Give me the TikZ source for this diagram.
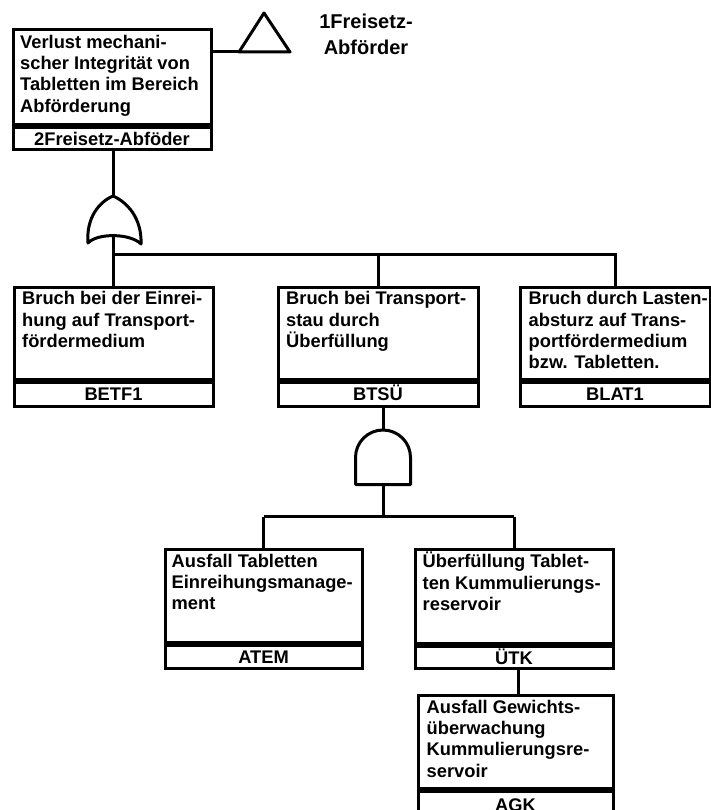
\documentclass[tikz,border=0pt]{standalone}
\usepackage{fontspec}
\setmainfont{Liberation Sans}
\newcommand\evfont{\fontsize{18.3}{21.3}\selectfont\bfseries}
\newcommand\evstrut{\rule{0pt}{17pt}}
\begin{document}
\begin{tikzpicture}[x=1pt,y=-1pt,
  evbody/.style={draw, rectangle, inner sep=0pt, anchor=north west, line width=3pt},
  evid/.style={draw, rectangle, inner sep=0pt, anchor=north, line width=3pt,
    text height=13pt, text depth=0pt, font=\evfont},
  evtext/.style={anchor=north west, inner sep=0pt, align=left, font=\evfont},
  conn/.style={line width=3pt},
  gate/.style={line width=3pt, line join=round}
]
\useasboundingbox (0,0) rectangle (711,810);

% ---- top event ----
\node[evbody, minimum width=198pt, minimum height=94.5pt] (top) at (11.5,28.5) {};
\node[evid, minimum width=198pt, minimum height=22.5pt] (topid) at (top.south) {2Freisetz-Abföder};
\node[evtext] (toptxt) at ([xshift=8.5pt,yshift=-2.5pt]top.north west)
  {\evstrut Verlust mechani-\\scher Integrität von\\Tabletten im Bereich\\Abförderung};

% transfer triangle
\coordinate (trileft) at (239,52);
\coordinate (triright) at (290,52);
\coordinate (triapex) at (264,13);
\draw[gate] (trileft) -- (triapex) -- (triright) -- cycle;
\draw[conn] (trileft -| top.east) -- (trileft);
\node[align=center, inner sep=0pt, anchor=north, font=\fontsize{20}{25.7}\selectfont\bfseries]
  (xferlbl) at (366,11.3) {\evstrut 1Freisetz-\\Abförder};

% ---- OR gate ----
\coordinate (ortop) at (113,196);
\coordinate (orbot) at (113,237);
\draw[gate] (88,243) .. controls (86,218) and (99,202) .. (ortop)
  .. controls (127,202) and (142,218) .. (141,244)
  .. controls (130,233) and (97,233) .. (88,243) -- cycle;
\draw[conn] (topid.south -| ortop) -- (ortop);

% ---- first level events ----
\node[evbody, minimum width=199pt, minimum height=92.5pt] (b1) at (12.5,285.5) {};
\node[evid, minimum width=199pt, minimum height=23.5pt] (b1id) at (b1.south) {BETF1};
\node[evtext] (b1txt) at ([xshift=9.5pt,yshift=-2pt]b1.north west)
  {\evstrut Bruch bei der Einrei-\\hung auf Transport-\\fördermedium};

\node[evbody, minimum width=200pt, minimum height=92.5pt] (b2) at (276.5,285.5) {};
\node[evid, minimum width=200pt, minimum height=23.5pt] (b2id) at (b2.south) {BTSÜ};
\node[evtext] (b2txt) at ([xshift=9.5pt,yshift=-2pt]b2.north west)
  {\evstrut Bruch bei Transport-\\stau durch\\Überfüllung};

\node[evbody, minimum width=190pt, minimum height=92.5pt] (b3) at (518.5,285.5) {};
\node[evid, minimum width=190pt, minimum height=23.5pt] (b3id) at (b3.south) {BLAT1};
\node[evtext] (b3txt) at ([xshift=10pt,yshift=-2pt]b3.north west)
  {\evstrut Bruch durch Lasten-\\absturz auf Trans-\\portfördermedium\\bzw. Tabletten.};

% OR gate inputs
\coordinate (orbus) at (113,254.5);
\draw[conn] (orbot) -- (orbot |- b1.north);
\draw[conn] (orbus) -- (b3.north |- orbus) -- (b3.north);
\draw[conn] (b2.north |- orbus) -- (b2.north);

% ---- AND gate ----
\coordinate (andtop) at (383,430);
\coordinate (andbot) at (383,484.5);
\draw[gate] (355.5,484.5) -- (355.5,457.5)
  .. controls (355.5,442.3) and (367.8,430) .. (andtop)
  .. controls (398.2,430) and (410.5,442.3) .. (410.5,457.5)
  -- (410.5,484.5) -- cycle;
\draw[conn] (b2id.south -| andtop) -- (andtop);

% ---- second level events ----
\node[evbody, minimum width=197pt, minimum height=93.5pt] (atem) at (163.5,547.5) {};
\node[evid, minimum width=197pt, minimum height=22.5pt] (atemid) at (atem.south) {ATEM};
\node[evtext] (atemtxt) at ([xshift=8pt,yshift=-2.5pt]atem.north west)
  {\evstrut Ausfall Tabletten\\Einreihungsmanage-\\ment};

\node[evbody, minimum width=198pt, minimum height=94pt] (utk) at (413.5,548) {};
\node[evid, minimum width=198pt, minimum height=22pt] (utkid) at (utk.south) {ÜTK};
\node[evtext] (utktxt) at ([xshift=9pt,yshift=-2.5pt]utk.north west)
  {\evstrut Überfüllung Tablet-\\ten Kummulierungs-\\reservoir};

% AND gate inputs
\coordinate (andbus) at (383,516.5);
\draw[conn] (andbot) -- (andbus);
\draw[conn] (atem.north |- andbus) -- (utk.north |- andbus);
\draw[conn] (atem.north |- andbus) -- (atem.north);
\draw[conn] (utk.north |- andbus) -- (utk.north);

% ---- third level event (runs past the lower edge) ----
\node[evbody, minimum width=195pt, minimum height=93.5pt] (agk) at (416.5,693.5) {};
\node[evid, minimum width=195pt, minimum height=27pt] (agkid) at (agk.south) {AGK};
\node[evtext] (agktxt) at ([xshift=10pt,yshift=-2.5pt]agk.north west)
  {\evstrut Ausfall Gewichts-\\überwachung\\Kummulierungsre-\\servoir};

\draw[conn] ([xshift=3pt]agk.north |- utkid.south) -- ([xshift=3pt]agk.north);
\end{tikzpicture}
\end{document}
